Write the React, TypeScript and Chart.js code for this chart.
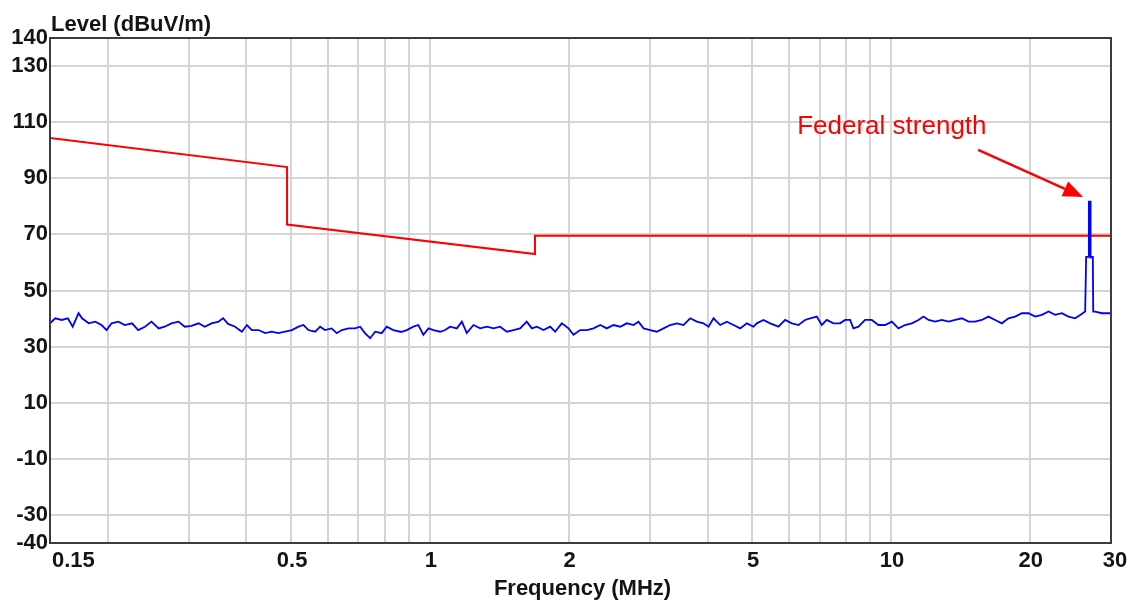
import React, { useEffect, useRef } from "react";
import { Chart, registerables } from "chart.js";

Chart.register(...registerables);

// ---- data ----
const limitFreq = [0.15, 0.49, 0.49, 1.69, 1.69, 30];
const limitLevel = [104.4, 94.0, 73.5, 63.0, 69.5, 69.5];

const blueFreq = [
  0.150, 0.154, 0.159, 0.164, 0.168, 0.173, 0.176, 0.182, 0.188, 0.194,
  0.199, 0.204, 0.211, 0.218, 0.226, 0.233, 0.241, 0.249, 0.258, 0.266,
  0.275, 0.285, 0.294, 0.304, 0.315, 0.325, 0.336, 0.348, 0.356, 0.365,
  0.378, 0.391, 0.401, 0.411, 0.425, 0.439, 0.454, 0.469, 0.485, 0.502,
  0.519, 0.532, 0.545, 0.564, 0.578, 0.592, 0.612, 0.628, 0.644, 0.666,
  0.688, 0.706, 0.723, 0.742, 0.761, 0.786, 0.806, 0.833, 0.862,
  0.869, 0.891, 0.921, 0.944, 0.968, 0.993, 1.018, 1.052, 1.079, 1.106,
  1.144, 1.173, 1.202, 1.243, 1.285, 1.329, 1.374, 1.420, 1.468, 1.518,
  1.569, 1.622, 1.664, 1.706, 1.763, 1.823, 1.869, 1.932, 1.998, 2.049,
  2.118, 2.190, 2.264, 2.341, 2.419, 2.502, 2.586, 2.674, 2.765, 2.834,
  2.906, 3.004, 3.106, 3.211, 3.320, 3.432, 3.548, 3.668, 3.792, 3.921,
  4.020, 4.122, 4.261, 4.405, 4.555, 4.709, 4.868, 5.033,
  5.115, 5.289, 5.468, 5.700, 5.894, 6.094, 6.299, 6.512, 6.676, 6.903,
  7.077, 7.256, 7.502, 7.756, 7.952, 8.152, 8.289, 8.499, 8.787, 9.084,
  9.391, 9.711, 10.04, 10.38, 10.73, 11.09, 11.47, 11.76, 12.06, 12.47,
  12.89, 13.33, 13.78, 14.24, 14.73, 15.22, 15.74, 16.27, 16.82, 17.39,
  17.98, 18.59, 19.22, 19.87, 20.54, 21.24, 21.96, 22.70, 23.47, 24.26,
  25.08, 25.72, 26.37,
  26.45, 26.50, 26.93, 26.96, 26.99, 27.40, 27.45, 27.72, 28.66, 29.87, 30.0,
];

const blueLevel = [
  38.3, 40.1, 39.5, 40.1, 37.1, 41.9, 40.1, 38.3, 38.9, 37.7,
  35.9, 38.3, 38.9, 37.7, 38.3, 35.9, 37.1, 38.9, 36.5, 37.1,
  38.3, 38.9, 37.1, 37.4, 38.3, 37.1, 38.3, 38.9, 40.1, 38.1,
  37.1, 35.3, 37.7, 35.9, 35.9, 34.8, 35.3, 34.8, 35.3, 35.9,
  37.1, 37.7, 35.9, 35.3, 37.1, 35.9, 36.5, 34.8, 35.9, 36.5,
  36.5, 37.1, 34.8, 33.0, 35.3, 34.8, 37.1, 35.9, 35.3,
  35.3, 35.9, 37.1, 37.7, 34.2, 36.5, 35.9, 35.3, 35.9, 37.1,
  36.5, 38.9, 34.8, 37.7, 36.5, 37.1, 36.5, 37.1, 35.3, 35.9,
  36.5, 38.9, 36.5, 37.1, 35.9, 37.1, 35.3, 38.3, 36.5, 34.2,
  35.9, 35.9, 36.5, 37.7, 36.5, 37.7, 37.1, 38.3, 37.7, 38.9,
  36.5, 35.9, 35.3, 36.5, 37.7, 38.3, 37.7, 40.1, 38.9, 38.3,
  37.1, 40.1, 37.7, 38.9, 37.7, 36.5, 38.3, 37.1,
  38.3, 39.5, 38.3, 37.1, 39.5, 38.3, 37.7, 39.5, 40.1, 40.7,
  37.7, 39.5, 38.3, 38.3, 39.5, 39.5, 36.5, 37.1, 39.5, 39.5,
  37.7, 37.7, 38.9, 36.5, 37.7, 38.3, 39.5, 40.7, 39.5, 38.9,
  39.5, 38.9, 39.5, 40.1, 38.9, 38.9, 39.5, 40.7, 39.5, 38.3,
  40.1, 40.7, 41.9, 41.9, 40.7, 41.3, 42.5, 41.3, 41.9, 40.7,
  40.1, 41.3, 42.5,
  42.5, 62.0, 62.0, 82.0, 62.0, 62.0, 42.5, 42.5, 41.9, 41.9, 42.0,
];

const yTicks = [-40, -30, -10, 10, 30, 50, 70, 90, 110, 130, 140];
const xGrid = [
  0.15, 0.2, 0.3, 0.4, 0.5, 0.6, 0.7, 0.8, 0.9,
  1, 2, 3, 4, 5, 6, 7, 8, 9, 10, 20, 30,
];
const xLabelValues = [0.15, 0.5, 1, 2, 5, 10, 20, 30];
const xLabelTexts = ["0.15", "0.5", "1", "2", "5", "10", "20", "30"];

const yTitle = "Level (dBuV/m)";
const xTitle = "Frequency (MHz)";
const noteText = "Federal strength";
const noteAt = [6.26, 108.3];
const arrowFrom = [15.45, 100.1];
const arrowTo = [26.1, 83.3];

const FONT = "'Liberation Sans', Arial, sans-serif";
const TEXT = "#141414";

export default function App() {
  const ref = useRef<HTMLCanvasElement | null>(null);

  useEffect(() => {
    const canvas = ref.current;
    if (!canvas) return;

    const n = Math.min(blueFreq.length, blueLevel.length);
    const blueData = [] as { x: number; y: number }[];
    for (let i = 0; i < n; i++) blueData.push({ x: blueFreq[i], y: blueLevel[i] });
    const limitData = limitFreq.map((f, i) => ({ x: f, y: limitLevel[i] }));

    const overlay = {
      id: "overlay",
      afterDraw(chart: any) {
        const ctx = chart.ctx as CanvasRenderingContext2D;
        const a = chart.chartArea;
        const xs = chart.scales.x;
        const ys = chart.scales.y;
        ctx.save();
        // frame
        ctx.strokeStyle = "#3c3c3c";
        ctx.lineWidth = 2;
        ctx.strokeRect(a.left, a.top, a.right - a.left, a.bottom - a.top);

        // axis titles
        ctx.fillStyle = TEXT;
        ctx.font = `bold 22px ${FONT}`;
        ctx.textAlign = "left";
        ctx.textBaseline = "alphabetic";
        ctx.fillText(yTitle, a.left + 1, a.top - 7);
        ctx.textAlign = "center";
        ctx.textBaseline = "middle";
        ctx.fillText(xTitle, (a.left + a.right) / 2 + 2, a.bottom + 46);

        // x tick labels
        xLabelValues.forEach((v, i) => {
          const px = xs.getPixelForValue(v);
          if (i === 0) {
            ctx.textAlign = "left";
            ctx.fillText(xLabelTexts[i], px + 2, a.bottom + 18);
          } else if (i === xLabelValues.length - 1) {
            ctx.textAlign = "center";
            ctx.fillText(xLabelTexts[i], px + 4, a.bottom + 18);
          } else {
            ctx.textAlign = "center";
            ctx.fillText(xLabelTexts[i], px + 1, a.bottom + 18);
          }
        });

        // annotation
        ctx.fillStyle = "#ff0000";
        ctx.font = `26px ${FONT}`;
        ctx.textAlign = "left";
        ctx.textBaseline = "middle";
        ctx.fillText(noteText, xs.getPixelForValue(noteAt[0]), ys.getPixelForValue(noteAt[1]));

        const x0 = xs.getPixelForValue(arrowFrom[0]);
        const y0 = ys.getPixelForValue(arrowFrom[1]);
        const x1 = xs.getPixelForValue(arrowTo[0]);
        const y1 = ys.getPixelForValue(arrowTo[1]);
        const ang = Math.atan2(y1 - y0, x1 - x0);
        const headLen = 20;
        const headW = 8;
        const bx = x1 - headLen * Math.cos(ang);
        const by = y1 - headLen * Math.sin(ang);
        ctx.strokeStyle = "#ff0000";
        ctx.lineWidth = 2.5;
        ctx.beginPath();
        ctx.moveTo(x0, y0);
        ctx.lineTo(bx, by);
        ctx.stroke();
        ctx.beginPath();
        ctx.moveTo(x1, y1);
        ctx.lineTo(bx + headW * Math.sin(ang), by - headW * Math.cos(ang));
        ctx.lineTo(bx - headW * Math.sin(ang), by + headW * Math.cos(ang));
        ctx.closePath();
        ctx.fillStyle = "#ff0000";
        ctx.fill();
        ctx.restore();
      },
    };

    const chart = new Chart(canvas, {
      type: "line",
      data: {
        datasets: [
          {
            label: "Level",
            data: blueData,
            borderColor: "#0000ff",
            borderWidth: 1.8,
            pointRadius: 0,
            tension: 0,
            segment: {
              borderWidth: (c: any) =>
                Math.min(c.p0.parsed.y, c.p1.parsed.y) >= 60 &&
                Math.max(c.p0.parsed.y, c.p1.parsed.y) >= 80
                  ? 3.5
                  : 1.8,
            },
          } as any,
          {
            label: "Limit",
            data: limitData,
            borderColor: "#ff0000",
            borderWidth: 2,
            pointRadius: 0,
            tension: 0,
          },
        ],
      },
      options: {
        animation: false,
        responsive: false,
        maintainAspectRatio: false,
        parsing: false as any,
        normalized: true,
        layout: { padding: { top: 38, right: 27, left: 0, bottom: 0 } },
        plugins: {
          legend: { display: false },
          tooltip: { enabled: false },
          title: { display: false },
        },
        scales: {
          x: {
            type: "logarithmic",
            min: 0.15,
            max: 30,
            afterBuildTicks: (s: any) => {
              s.ticks = xGrid.map((v) => ({ value: v }));
            },
            afterFit: (s: any) => {
              s.height = 59;
            },
            ticks: { display: false },
            grid: { color: "#d5d5d5", lineWidth: 2, drawTicks: false },
            border: { display: false },
          },
          y: {
            type: "linear",
            min: -40,
            max: 140,
            afterBuildTicks: (s: any) => {
              s.ticks = yTicks.map((v) => ({ value: v }));
            },
            afterFit: (s: any) => {
              s.width = 50;
            },
            ticks: {
              autoSkip: false,
              padding: 2,
              color: TEXT,
              font: { family: FONT, size: 22, weight: "bold" },
              callback: (v: any) => String(v),
            },
            grid: { color: "#d5d5d5", lineWidth: 2, drawTicks: false },
            border: { display: false },
          },
        },
      } as any,
      plugins: [overlay],
    });

    return () => chart.destroy();
  }, []);

  return (
    <div
      style={{
        position: "fixed",
        left: 0,
        top: 0,
        width: 1138,
        height: 602,
        background: "#ffffff",
      }}
    >
      <canvas ref={ref} width={1138} height={602} style={{ width: 1138, height: 602, display: "block" }} />
    </div>
  );
}
